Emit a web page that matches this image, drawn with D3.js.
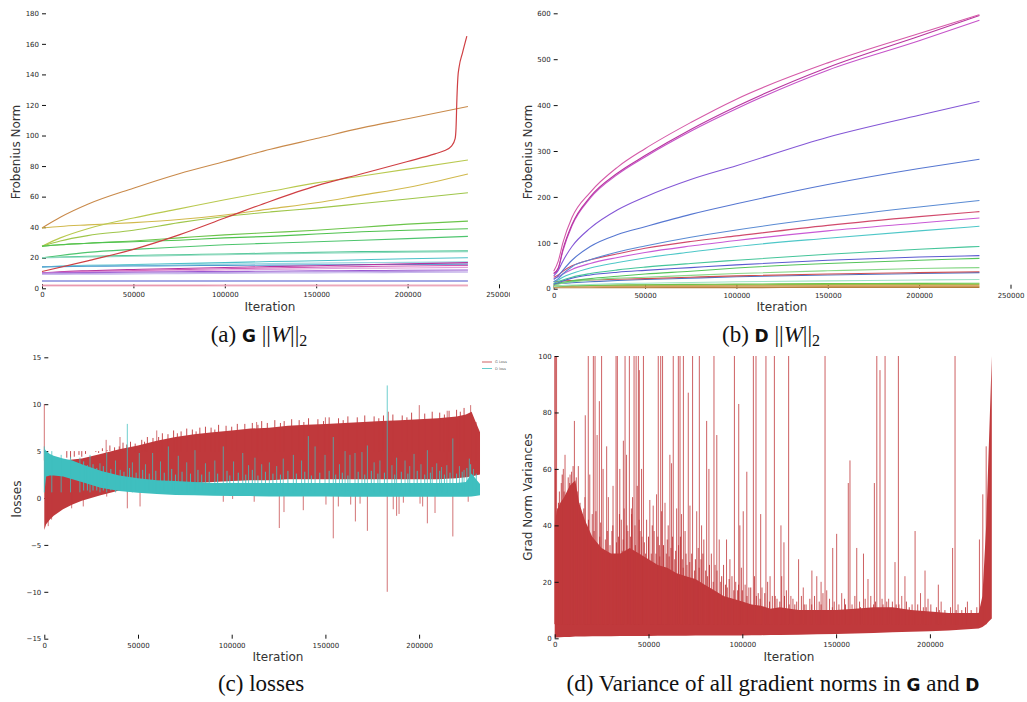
<!DOCTYPE html>
<html>
<head>
<meta charset="utf-8">
<script src="https://cdn.jsdelivr.net/npm/d3@7"></script>
<style>
  body { margin: 0; background: #fff; }
  svg { display: block; }
</style>
</head>
<body>
<svg id="fig" width="1027" height="702"></svg>
<script>
// ---------- (a) G weight norms ----------
const gIters = [0, 10000, 25000, 50000, 75000, 100000, 125000, 150000, 175000, 200000, 233000];
const gNorms = [
  { color: '#c98a4b', values: [39.5, 46.5, 55, 65.5, 75, 83, 91, 98, 105, 111, 119] },
  { color: '#d1b94d', values: [39.5, 40.5, 41.5, 43, 45, 48, 52, 56, 61, 66, 74.8] },
  { color: '#b9c94f', values: [27.5, 33, 39, 46, 52, 58, 63.5, 69, 73.5, 78, 84] },
  { color: '#9fc64a', values: [27.5, 31, 34.5, 38, 43, 47, 50, 52.5, 55.5, 58.5, 62.5] },
  { color: '#6bc44a', values: [27.5, 28.5, 29.5, 31, 33, 35, 36.5, 38, 40, 42, 44] },
  { color: '#4fc24f', values: [27.5, 28.5, 29.5, 30.5, 31.5, 33, 34, 35.5, 37, 38, 39] },
  { color: '#4ec56e', values: [20, 21.5, 23.5, 25.5, 27, 28.5, 29.5, 30.5, 31.5, 32.5, 34] },
  { color: '#4cc592', values: [20, 20.5, 21, 21.5, 22, 22.5, 23, 23.5, 24, 24.3, 24.5] },
  { color: '#8fd8c0', values: [20, 20.2, 20.5, 21, 21.5, 22, 22.5, 23, 23.3, 23.6, 24] },
  { color: '#4cc0c8', values: [14, 14.5, 15, 15.5, 16.2, 16.8, 17.5, 18, 18.7, 19.3, 20] },
  { color: '#9ad6e0', values: [14, 14.3, 14.7, 15, 15.4, 15.8, 16.2, 16.5, 16.8, 17, 17.3] },
  { color: '#4d9ccf', values: [14, 14.2, 14.4, 14.6, 14.8, 15, 15.2, 15.4, 15.5, 15.6, 15.8] },
  { color: '#b4339e', values: [10, 10.8, 11.5, 12.3, 13, 13.6, 14.2, 14.8, 15.4, 16, 16.8] },
  { color: '#d35bb4', values: [10, 10.5, 11, 11.6, 12.2, 12.8, 13.3, 13.8, 14.2, 14.6, 15] },
  { color: '#e2a0dc', values: [10, 10.3, 10.7, 11.1, 11.5, 12, 12.4, 12.8, 13.1, 13.3, 13.7] },
  { color: '#9a57d2', values: [10, 10.1, 10.3, 10.5, 10.8, 11, 11.2, 11.4, 11.6, 11.8, 12] },
  { color: '#b89ae0', values: [9.5, 9.6, 9.8, 10, 10.2, 10.4, 10.6, 10.8, 11, 11.1, 11.3] },
  { color: '#c8b8ec', values: [9, 9.1, 9.2, 9.4, 9.6, 9.8, 10, 10.1, 10.2, 10.3, 10.5] },
  { color: '#4b55cc', values: [4.8, 4.8, 4.8, 4.8, 4.8, 4.8, 4.8, 4.8, 4.8, 4.8, 4.8] },
  { color: '#d94f78', values: [2, 2, 2, 2, 2, 2, 2, 2, 2, 2, 2] },
  { color: '#f0b8c8', values: [1.5, 1.5, 1.5, 1.5, 1.5, 1.6, 1.6, 1.6, 1.6, 1.6, 1.6] }
];
const gRedIters = [0, 25000, 50000, 75000, 100000, 125000, 150000, 175000, 200000, 215000, 220000, 224000, 226000, 226500, 227000, 227500, 228200, 230000, 232400];
const gRedValues = [11, 18, 25.5, 35, 46, 57, 67, 75, 83, 88, 90, 93, 98, 105, 125, 138, 145, 154, 165];

// ---------- (b) D weight norms ----------
const dIters = [0, 2500, 5000, 10000, 20000, 35000, 50000, 75000, 100000, 150000, 200000, 233000];
const dNorms = [
  { color: '#b07838', values: [2, 2.1, 2.1, 2.2, 2.2, 2.3, 2.3, 2.4, 2.4, 2.5, 2.5, 2.5] },
  { color: '#c9a060', values: [3, 3.2, 3.3, 3.5, 3.7, 3.9, 4, 4.2, 4.3, 4.5, 4.6, 4.7] },
  { color: '#d08a40', values: [5, 5.2, 5.4, 5.6, 5.8, 6, 6.1, 6.2, 6.3, 6.4, 6.5, 6.5] },
  { color: '#a8b84a', values: [6, 6.3, 6.6, 7, 7.3, 7.8, 8, 8.3, 8.6, 9, 9.3, 9.5] },
  { color: '#6cc44a', values: [5, 5.5, 6, 6.5, 7, 8, 8.5, 9.5, 10, 11, 11.5, 12] },
  { color: '#9fe3c6', values: [5, 6, 7, 8, 9, 11, 12, 13.5, 15, 17, 19, 20] },
  { color: '#4f72c4', values: [10, 11, 12, 13, 15, 18, 20, 23, 26, 30, 33, 35] },
  { color: '#d05050', values: [15, 16, 17, 18, 19, 20.5, 22, 25, 28, 32, 35, 37] },
  { color: '#8ad88a', values: [8, 10, 12, 15, 19, 23, 25, 29, 33, 39, 44, 46] },
  { color: '#54c45a', values: [10, 12, 14, 17, 22, 27, 32, 38, 45, 55, 62, 66] },
  { color: '#5b5ad0', values: [10, 13, 17, 23, 30, 36, 40, 46, 52, 62, 69, 72] },
  { color: '#45c59a', values: [12, 15, 19, 25, 33, 41, 47, 55, 62, 75, 86, 92] },
  { color: '#4ec7c8', values: [15, 19, 25, 33, 45, 57, 67, 80, 92, 110, 126, 136] },
  { color: '#c95ad6', values: [22, 26, 32, 42, 55, 68, 79, 93, 105, 126, 143, 154] },
  { color: '#d14a6c', values: [25, 30, 38, 50, 63, 76, 88, 103, 115, 138, 157, 168] },
  { color: '#5a8bd3', values: [15, 22, 32, 48, 63, 80, 93, 112, 128, 155, 178, 192] },
  { color: '#5677d1', values: [20, 28, 40, 62, 92, 118, 135, 162, 185, 227, 262, 282] },
  { color: '#8457d6', values: [28, 40, 60, 92, 132, 172, 200, 238, 268, 330, 378, 408] },
  { color: '#c653c9', values: [33, 44, 82, 137, 197, 249, 287, 343, 392, 476, 540, 585] },
  { color: '#b8359f', values: [33, 45, 85, 140, 200, 252, 290, 347, 397, 482, 550, 595] },
  { color: '#d55aa8', values: [38, 60, 100, 155, 210, 265, 305, 362, 413, 492, 556, 597] }
];

// ---------- (c) losses ----------
const lossIters = [0, 1000, 3000, 5000, 10000, 15000, 20000, 30000, 40000, 50000, 60000, 70000, 80000, 90000, 100000, 110000, 120000, 130000, 140000, 150000, 160000, 170000, 180000, 190000, 200000, 210000, 220000, 225000, 228000, 230000, 232500];
const gLossHigh = [4.0, 4.2, 4.0, 3.9, 4.0, 4.1, 4.2, 4.7, 5.2, 5.6, 6.1, 6.5, 6.8, 7.0, 7.2, 7.4, 7.5, 7.7, 7.8, 7.9, 8.0, 8.1, 8.2, 8.3, 8.4, 8.5, 8.7, 8.9, 9.2, 8.2, 7.0];
const gLossLow = [-3.4, -2.8, -2.3, -1.9, -1.2, -0.7, -0.3, 0.3, 0.8, 1.1, 1.3, 1.5, 1.6, 1.7, 1.8, 1.9, 1.9, 2.0, 2.0, 2.0, 2.0, 2.0, 2.0, 2.0, 2.0, 2.0, 2.1, 2.2, 2.3, 2.4, 2.5];
const dLossHigh = [5.3, 5.0, 4.7, 4.5, 4.2, 4.0, 3.6, 2.9, 2.4, 2.1, 1.9, 1.8, 1.7, 1.6, 1.6, 1.6, 1.6, 1.6, 1.6, 1.6, 1.6, 1.6, 1.6, 1.6, 1.6, 1.6, 1.6, 1.7, 2.6, 2.1, 1.5];
const dLossLow = [0.5, 2.3, 2.4, 2.4, 2.3, 2.0, 1.7, 1.1, 0.75, 0.55, 0.42, 0.33, 0.28, 0.24, 0.2, 0.2, 0.15, 0.15, 0.15, 0.15, 0.12, 0.12, 0.12, 0.12, 0.12, 0.12, 0.12, 0.12, 0.15, 0.2, 0.3];
const gLossSpikesUp = [[0, 10.0], [33000, 6.2], [40400, 6.5], [60000, 7.2], [113300, 8.1], [150000, 8.6], [183600, 9.2], [200100, 9.9], [215000, 9.3], [227500, 9.9], [230400, 8.1]];
const gLossTeeth = [[12000, 4.3], [14000, 4.2], [16000, 4.4], [18500, 4.6], [20000, 4.4], [22000, 4.7], [25000, 5.0], [27500, 4.9], [29000, 4.8], [31000, 5.3], [33500, 5.1], [35000, 5.6], [37500, 5.4], [40000, 5.5], [42000, 5.9], [44000, 5.7], [46000, 6.0], [48500, 5.8], [52000, 6.2], [53500, 6.0], [55000, 6.5], [58000, 6.4], [61000, 6.5], [63000, 6.9], [66000, 6.8], [69000, 7.2], [71000, 6.9], [73000, 7.1], [76000, 7.4], [79000, 7.3], [81000, 7.1], [83000, 7.5], [86000, 7.6], [89000, 7.5], [91000, 7.3], [93000, 7.8], [97000, 7.7], [100000, 7.6], [103000, 7.9], [107000, 7.9], [111000, 8.0], [114000, 7.8], [116000, 8.2], [119000, 8.0], [123000, 8.3], [126000, 8.0], [128000, 8.2], [132000, 8.4], [136000, 8.3], [138500, 8.1], [141000, 8.5], [146000, 8.4], [149000, 8.2], [152000, 8.6], [157000, 8.5], [159500, 8.3], [162000, 8.7], [167000, 8.6], [171000, 8.8], [176000, 8.7], [178500, 8.5], [181000, 8.8], [186000, 8.9], [191000, 8.8], [193500, 8.6], [196000, 9.1], [203000, 9.0], [207000, 9.2], [211000, 9.1], [213500, 8.9], [216000, 9.3], [220000, 9.4], [222000, 9.2], [224000, 9.6]];
const gLossSpikesDown = [[2100, -3.0], [3900, -2.3], [14600, -1.1], [20800, -0.9], [33300, 0.15], [44300, -1.1], [51100, -0.9], [95500, -0.4], [100500, -0.1], [112000, -0.4], [125400, -3.2], [127900, -1.5], [138200, -1.3], [150300, -0.7], [154200, -4.3], [156900, -0.9], [163500, -0.7], [166000, -2.5], [168500, -0.6], [172400, -3.5], [183000, -10], [186200, -1.2], [188000, -1.9], [189300, -1.7], [191600, -0.5], [200500, -0.6], [201900, -0.9], [204400, -2.7], [208500, -1.6], [218000, -4.1], [226200, -0.4]];
const dLossSpikes = [[0, 5.5], [4000, 5.0], [9000, 4.6], [14000, 4.4], [19000, 4.3], [24400, 4.6], [29700, 3.7], [33300, 4.8], [38000, 4.0], [44300, 7.9], [47000, 3.8], [50700, 4.8], [54000, 3.6], [57800, 4.8], [62000, 3.9], [66200, 5.5], [71500, 4.5], [76000, 3.8], [80400, 5.1], [86000, 3.7], [91000, 4.0], [95500, 5.5], [101000, 3.9], [105900, 4.8], [109000, 3.5], [112400, 4.3], [116000, 3.6], [120100, 3.8], [124000, 3.4], [127500, 4.2], [132900, 4.6], [137300, 4.0], [140900, 6.6], [144500, 5.5], [149800, 4.6], [154200, 6.5], [157500, 3.6], [160500, 5.0], [163100, 4.6], [165800, 4.8], [169500, 4.9], [172400, 5.6], [176000, 3.8], [179100, 4.0], [183000, 12.0], [185500, 3.5], [188000, 4.3], [192500, 4.0], [195000, 3.4], [197300, 4.7], [201000, 3.6], [204400, 5.1], [207000, 3.3], [209400, 3.7], [212000, 3.3], [214800, 3.5], [218000, 6.35], [221500, 3.4], [224000, 3.0], [226800, 4.2], [229000, 3.1]];
const dLossTeeth = [[21000, 3.9], [23000, 3.5], [26000, 3.6], [28000, 3.2], [31500, 3.4], [35500, 3.1], [40500, 3.0], [42500, 2.8], [45500, 3.2], [49000, 2.7], [52500, 3.0], [56000, 2.6], [59500, 2.9], [64000, 2.7], [68000, 3.1], [70000, 2.5], [73500, 2.8], [78000, 2.6], [82000, 3.0], [84000, 2.5], [88000, 2.8], [92500, 2.6], [97500, 2.9], [99000, 2.4], [103500, 2.7], [107500, 2.5], [111000, 3.0], [114000, 2.4], [118000, 2.8], [122000, 2.6], [126000, 2.5], [130000, 2.9], [134500, 2.6], [139000, 2.8], [142500, 2.4], [147000, 2.7], [152000, 2.9], [155500, 2.5], [159000, 2.7], [162000, 2.4], [167500, 2.8], [171000, 2.5], [174500, 2.9], [178000, 2.6], [181500, 2.7], [187000, 2.5], [190500, 2.8], [194000, 2.6], [199000, 2.9], [203000, 2.5], [206000, 2.7], [211000, 2.9], [213500, 2.5], [216500, 2.7], [220000, 2.6], [223000, 2.8], [225500, 3.2], [227500, 3.6], [230500, 2.6]];
const lossNames = ['G Loss', 'D loss'];

// ---------- (d) gradient norm variance ----------
const varIters = [0, 1000, 3000, 5000, 8000, 11000, 13000, 16000, 20000, 25000, 30000, 35000, 40000, 45000, 50000, 55000, 60000, 65000, 70000, 75000, 80000, 85000, 90000, 95000, 100000, 105000, 110000, 115000, 120000, 130000, 140000, 150000, 160000, 170000, 180000, 190000, 200000, 210000, 220000, 226000, 228000, 230000, 231500, 233000];
const varHigh = [40, 45, 48, 50, 54, 56, 48, 42, 36, 32, 30, 30, 32, 30, 28, 26, 25, 23, 22, 21, 19, 17, 15, 14, 13, 12, 11.5, 10.5, 11, 10, 10, 10, 10.5, 11, 11, 10, 9.5, 9, 9, 9, 15, 40, 70, 100];
const varLow = [0.3, 0.3, 0.4, 0.5, 0.5, 0.6, 0.6, 0.6, 0.7, 0.7, 0.7, 0.8, 0.8, 0.8, 0.8, 0.9, 0.9, 0.9, 0.9, 1.0, 1.0, 1.0, 1.0, 1.0, 1.0, 1.1, 1.1, 1.2, 1.2, 1.3, 1.4, 1.5, 1.7, 1.9, 2.1, 2.3, 2.5, 2.8, 3.2, 3.5, 4, 5, 6, 7];
const varSpikes = [[0, 100], [500, 100], [1000, 100], [17900, 100], [20600, 100], [21500, 100], [25000, 100], [32700, 100], [33400, 100], [37500, 100], [39800, 100], [42300, 100], [43400, 100], [44600, 100], [47300, 100], [55200, 100], [56500, 100], [57500, 100], [63200, 100], [65900, 100], [66800, 100], [68600, 100], [73500, 100], [77100, 100], [84900, 100], [95800, 100], [105900, 100], [107300, 100], [112600, 100], [117100, 100], [124700, 100], [144100, 100], [171700, 100], [176100, 100], [183200, 100], [213400, 100],
  [10500, 77], [16300, 79], [23800, 84], [27700, 68], [36600, 70], [45100, 95], [71200, 87], [81000, 77], [86400, 72], [98100, 83], [102400, 59], [157400, 63], [156500, 55], [170400, 55], [173400, 95], [192100, 38], [197400, 24], [204500, 19], [212100, 32], [150300, 37], [148200, 32], [161000, 32], [164600, 30], [181400, 27], [186700, 22], [130000, 28], [137100, 24], [139700, 22], [226400, 35], [228200, 51], [230000, 68],
  [4600, 60], [5500, 65], [8200, 58], [12600, 61], [16100, 50], [18700, 58], [22600, 72], [25800, 60], [28600, 50], [31100, 54], [34700, 60], [38300, 65], [40900, 46], [46300, 60], [50700, 49], [52500, 47], [54300, 51], [58800, 48], [61400, 65], [62300, 62], [65000, 46], [67600, 44], [72100, 47], [75700, 45], [78300, 40], [82200, 60], [87700, 35], [91600, 35], [93400, 28], [98700, 40], [100500, 45], [109800, 44], [114800, 22], [120600, 40], [122200, 34], [125900, 15], [132500, 18],
  [142000, 20], [145000, 17], [153000, 16], [167000, 21], [178000, 14], [185000, 15], [195000, 16], [199000, 14], [206000, 13], [215000, 12], [220000, 13]];
const varTeeth = [[1500, 46], [2500, 52], [3500, 55], [6500, 50], [7200, 57], [9000, 59], [9800, 61], [11500, 57], [12000, 52], [13500, 48], [14500, 44], [15500, 46], [17000, 40], [19500, 35], [20000, 44], [23000, 32], [24500, 41], [26500, 28], [27000, 35], [29500, 33], [30500, 38], [32000, 29], [34000, 36], [35500, 42], [36000, 31], [37000, 46], [39000, 38], [40000, 30], [41500, 50], [42800, 40], [44000, 54], [45500, 38], [47800, 34], [49000, 42], [51500, 30], [53000, 38], [55800, 33], [57000, 45], [59500, 30], [60500, 40], [62800, 36], [64000, 28], [66000, 33], [68000, 28], [69500, 38], [70500, 26], [73000, 30], [74500, 24], [76500, 32], [78000, 28], [79500, 35], [81500, 22], [83500, 30], [85500, 26], [88500, 20], [90000, 26], [92000, 18], [94500, 22], [96500, 20], [97500, 17], [99500, 25], [101500, 19], [103500, 18], [106500, 22], [108500, 16], [110500, 18], [113500, 20], [116000, 15], [118500, 14], [121000, 22], [123500, 17], [127000, 14], [129000, 13], [131500, 15], [134000, 12], [136000, 14], [138500, 15], [141000, 13], [143000, 16], [146500, 14], [149000, 13], [151500, 12], [154500, 14], [158500, 12], [160000, 15], [162500, 13], [165500, 14], [168500, 15], [171000, 13], [174500, 14], [177000, 13], [180000, 13], [183500, 12], [187500, 13], [190500, 12], [193500, 12], [196500, 11], [200500, 12], [203500, 11], [208000, 10], [211000, 11], [217000, 10], [222000, 10], [225000, 11]];
const varTeeth2 = [[500, 60], [2000, 48], [4000, 58], [5000, 52], [6000, 47], [8000, 55], [10000, 54], [11000, 50], [13000, 44], [14000, 40], [16500, 38], [18000, 42], [19000, 33], [21000, 38], [22000, 45], [24000, 36], [25500, 30], [28000, 38], [29000, 30], [31000, 40], [33000, 34], [34500, 44], [36500, 35], [38500, 40], [40500, 36], [41000, 44], [43000, 33], [45000, 42], [46500, 36], [48500, 30], [50000, 36], [52000, 40], [54000, 30], [55000, 36], [56000, 29], [58000, 33], [60000, 35], [61000, 29], [62000, 32], [64500, 31], [67000, 36], [68500, 25], [70000, 30], [72000, 27], [75000, 28], [77000, 25], [79000, 30], [80500, 24], [82500, 26], [84500, 20], [86500, 24], [89000, 22], [91000, 19], [93000, 21], [95500, 17], [98000, 19], [100000, 17], [102500, 15], [104500, 18], [107500, 15], [109500, 14], [112000, 16], [114500, 13], [117500, 15], [120000, 13], [122500, 15], [125000, 12], [128000, 12], [133000, 12], [137000, 12], [142000, 12], [148000, 11], [155000, 12], [163000, 11], [170000, 12], [175000, 12], [182000, 12], [189000, 11], [198000, 11], [205000, 10], [214000, 10], [219000, 11]];

const svg = d3.select('#fig');
const red = '#c0393c';
const cyan = '#3fbfbf';
const textCol = '#262626';

const defs = svg.append('defs');
defs.append('clipPath').attr('id', 'clipA').append('rect').attr('x', 0).attr('y', 0).attr('width', 510).attr('height', 330);
defs.append('clipPath').attr('id', 'clipD').append('rect').attr('x', 550).attr('y', 356).attr('width', 470).attr('height', 290);

function axes(g, x, y, xTicks, yTicks) {
  const xa = g.append('g')
    .attr('transform', `translate(0,${y.range()[0]})`)
    .call(d3.axisBottom(x).tickValues(xTicks).tickSize(-4).tickPadding(4).tickFormat(d3.format('d')));
  const ya = g.append('g')
    .attr('transform', `translate(${x.range()[0]},0)`)
    .call(d3.axisLeft(y).tickValues(yTicks).tickSize(-4).tickPadding(3).tickFormat(d3.format('d')));
  [xa, ya].forEach(a => {
    a.select('.domain').remove();
    a.selectAll('line').attr('stroke', '#111').attr('stroke-width', 1);
    a.selectAll('text').attr('fill', textCol).style('font-family', 'DejaVu Sans, sans-serif').style('font-size', '7px');
  });
}

function labels(g, xl, xPos, yl, yPos) {
  g.append('text').attr('x', xPos[0]).attr('y', xPos[1]).attr('text-anchor', 'middle')
    .style('font-family', 'DejaVu Sans, sans-serif').style('font-size', '12px').attr('fill', '#333').text(xl);
  g.append('text').attr('transform', `translate(${yPos[0]},${yPos[1]}) rotate(-90)`).attr('text-anchor', 'middle')
    .style('font-family', 'DejaVu Sans, sans-serif').style('font-size', '12px').attr('fill', '#333').text(yl);
}

function spikes(g, x, y, list, base, color, opacity) {
  g.selectAll(null).data(list).enter().append('line')
    .attr('x1', d => x(d[0])).attr('x2', d => x(d[0]))
    .attr('y1', y(base)).attr('y2', d => y(d[1]))
    .attr('stroke', color).attr('stroke-width', 1).attr('stroke-opacity', opacity);
}

const boldSans = t => t.style('font-family', 'DejaVu Sans, sans-serif').style('font-weight', 'bold').style('font-size', '17px');

function normCaption(x, y, prefix, letter) {
  const t = svg.append('text').attr('x', x).attr('y', y).attr('text-anchor', 'middle')
    .style('font-family', 'Liberation Serif, serif').style('font-size', '23px').attr('fill', '#111');
  t.append('tspan').text(prefix);
  boldSans(t.append('tspan')).text(letter);
  t.append('tspan').text(' ||');
  t.append('tspan').style('font-style', 'italic').text('W');
  t.append('tspan').text('||');
  t.append('tspan').attr('dy', 4).style('font-size', '16px').text('2');
}

const xTicksFull = [0, 50000, 100000, 150000, 200000, 250000];
const xTicksShort = [0, 50000, 100000, 150000, 200000];

// ----- panel (a)
{
  const g = svg.append('g').attr('clip-path', 'url(#clipA)');
  const x = d3.scaleLinear().domain([0, 250000]).range([42, 499]);
  const y = d3.scaleLinear().domain([0, 180]).range([288.3, 13.3]);
  axes(g, x, y, xTicksFull, d3.range(0, 181, 20));
  const line = d3.line().x(d => x(d[0])).y(d => y(d[1])).curve(d3.curveMonotoneX);
  gNorms.forEach(s => {
    g.append('path').datum(gIters.map((it, i) => [it, s.values[i]]))
      .attr('d', line).attr('fill', 'none').attr('stroke', s.color).attr('stroke-width', 1.1);
  });
  g.append('path').datum(gRedIters.map((it, i) => [it, gRedValues[i]]))
    .attr('d', line).attr('fill', 'none').attr('stroke', '#cf3f43').attr('stroke-width', 1.2);
  labels(g, 'Iteration', [270, 311], 'Frobenius Norm', [20, 152]);
}

// ----- panel (b)
{
  const g = svg.append('g');
  const x = d3.scaleLinear().domain([0, 250000]).range([553.7, 1010.5]);
  const y = d3.scaleLinear().domain([0, 600]).range([288.7, 13.3]);
  axes(g, x, y, xTicksFull, d3.range(0, 601, 100));
  const line = d3.line().x(d => x(d[0])).y(d => y(d[1])).curve(d3.curveMonotoneX);
  dNorms.forEach(s => {
    g.append('path').datum(dIters.map((it, i) => [it, s.values[i]]))
      .attr('d', line).attr('fill', 'none').attr('stroke', s.color).attr('stroke-width', 1.1);
  });
  labels(g, 'Iteration', [782, 311], 'Frobenius Norm', [532, 152]);
}

// ----- panel (c)
{
  const g = svg.append('g');
  const x = d3.scaleLinear().domain([0, 250000]).range([44.3, 512.8]);
  const y = d3.scaleLinear().domain([-15, 15]).range([638.7, 357.3]);
  axes(g, x, y, xTicksShort, d3.range(-15, 16, 5));
  const area = (hi, lo) => d3.area().x((d, i) => x(lossIters[i])).y0((d, i) => y(lo[i])).y1((d, i) => y(hi[i]));
  g.append('path').datum(lossIters).attr('d', area(gLossHigh, gLossLow)).attr('fill', red);
  spikes(g, x, y, gLossTeeth, 5, red, 0.9);
  spikes(g, x, y, gLossSpikesUp, 4, red, 0.7);
  spikes(g, x, y, gLossSpikesDown, 1.5, red, 0.7);
  g.append('path').datum(lossIters).attr('d', area(dLossHigh, dLossLow)).attr('fill', cyan);
  spikes(g, x, y, dLossTeeth, 0.8, cyan, 0.9);
  spikes(g, x, y, dLossSpikes, 0.6, cyan, 0.75);
  // legend
  [red, cyan].forEach((c, i) => {
    g.append('line').attr('x1', 482).attr('x2', 492).attr('y1', 362 + i * 6.5).attr('y2', 362 + i * 6.5)
      .attr('stroke', c).attr('stroke-width', 1).attr('stroke-opacity', 0.8);
    g.append('text').attr('x', 495).attr('y', 363.3 + i * 6.5).style('font-family', 'DejaVu Sans, sans-serif')
      .style('font-size', '3.6px').attr('fill', '#666').text(lossNames[i]);
  });
  labels(g, 'Iteration', [278, 661], 'losses', [21, 499]);
}

// ----- panel (d)
{
  const g = svg.append('g');
  const x = d3.scaleLinear().domain([0, 250000]).range([554.7, 1023.7]);
  const y = d3.scaleLinear().domain([0, 100]).range([638.3, 356]);
  const plot = g.append('g').attr('clip-path', 'url(#clipD)');
  plot.append('path').datum(varIters)
    .attr('d', d3.area().x((d, i) => x(varIters[i])).y0((d, i) => y(varLow[i])).y1((d, i) => y(varHigh[i])))
    .attr('fill', red);
  spikes(plot, x, y, varTeeth2, 5, red, 0.95);
  spikes(plot, x, y, varTeeth, 5, red, 0.85);
  spikes(plot, x, y, varSpikes, 5, red, 0.8);
  axes(g, x, y, xTicksShort, d3.range(0, 101, 20));
  labels(g, 'Iteration', [789, 661], 'Grad Norm Variances', [532, 497]);
}

// ----- captions
normCaption(259, 342, '(a) ', 'G');
normCaption(771, 342, '(b) ', 'D');
svg.append('text').attr('x', 261).attr('y', 691).attr('text-anchor', 'middle')
  .style('font-family', 'Liberation Serif, serif').style('font-size', '23px').attr('fill', '#111').text('(c) losses');
{
  const t = svg.append('text').attr('x', 773).attr('y', 691).attr('text-anchor', 'middle')
    .style('font-family', 'Liberation Serif, serif').style('font-size', '23px').attr('fill', '#111');
  t.append('tspan').text('(d) Variance of all gradient norms in ');
  boldSans(t.append('tspan')).text('G');
  t.append('tspan').text(' and ');
  boldSans(t.append('tspan')).text('D');
}
</script>
</body>
</html>
